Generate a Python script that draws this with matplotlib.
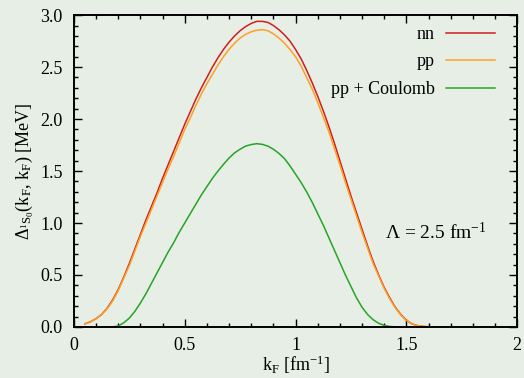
import numpy as np
import matplotlib
matplotlib.use('Agg')
import matplotlib.pyplot as plt
from matplotlib.ticker import MultipleLocator

plt.rcParams['font.family'] = ['Liberation Serif', 'DejaVu Serif']
plt.rcParams['mathtext.fontset'] = 'custom'
plt.rcParams['mathtext.rm'] = 'Liberation Serif'
plt.rcParams['mathtext.it'] = 'Liberation Serif:italic'

# values, k_F step 0.025 fm^-1
kf_nn = [0.050, 0.075, 0.100, 0.125, 0.150, 0.175, 0.200, 0.225, 0.250, 0.275,
         0.300, 0.325, 0.350, 0.375, 0.400, 0.425, 0.450, 0.475, 0.500, 0.525,
         0.550, 0.575, 0.600, 0.625, 0.650, 0.675, 0.700, 0.725, 0.750, 0.775,
         0.800, 0.825, 0.850, 0.875, 0.900, 0.925, 0.950, 0.975, 1.000, 1.025,
         1.050, 1.075, 1.100, 1.125, 1.150, 1.175, 1.200, 1.225, 1.250, 1.275,
         1.300, 1.325, 1.350, 1.375, 1.400, 1.425, 1.450, 1.475, 1.500, 1.525,
         1.550, 1.575, 1.600]
gap_nn = [0.03, 0.05, 0.08, 0.12, 0.18, 0.26, 0.36, 0.48, 0.61, 0.75,
          0.89, 1.03, 1.16, 1.29, 1.43, 1.56, 1.69, 1.82, 1.95, 2.07,
          2.19, 2.30, 2.40, 2.50, 2.59, 2.67, 2.74, 2.80, 2.85, 2.89,
          2.92, 2.94, 2.94, 2.93, 2.90, 2.86, 2.81, 2.75, 2.67, 2.58,
          2.47, 2.35, 2.22, 2.08, 1.93, 1.77, 1.60, 1.43, 1.26, 1.10,
          0.94, 0.78, 0.63, 0.50, 0.38, 0.28, 0.19, 0.12, 0.065, 0.03,
          0.013, 0.005, 0.002]
gap_pp = [0.03, 0.05, 0.08, 0.12, 0.175, 0.25, 0.35, 0.47, 0.59, 0.73,
          0.87, 1.00, 1.13, 1.26, 1.39, 1.52, 1.64, 1.77, 1.90, 2.01,
          2.13, 2.24, 2.34, 2.43, 2.52, 2.60, 2.67, 2.73, 2.78, 2.815,
          2.84, 2.855, 2.86, 2.85, 2.82, 2.78, 2.73, 2.67, 2.60, 2.51,
          2.40, 2.29, 2.16, 2.02, 1.88, 1.72, 1.56, 1.39, 1.23, 1.07,
          0.91, 0.76, 0.61, 0.49, 0.37, 0.27, 0.185, 0.115, 0.063, 0.029,
          0.013, 0.005, 0.002]
kf_c = [0.175, 0.200, 0.225, 0.250, 0.275, 0.300, 0.325, 0.350, 0.375, 0.400,
        0.425, 0.450, 0.475, 0.500, 0.525, 0.550, 0.575, 0.600, 0.625, 0.650,
        0.675, 0.700, 0.725, 0.750, 0.775, 0.800, 0.825, 0.850, 0.875, 0.900,
        0.925, 0.950, 0.975, 1.000, 1.025, 1.050, 1.075, 1.100, 1.125, 1.150,
        1.175, 1.200, 1.225, 1.250, 1.275, 1.300, 1.325, 1.350, 1.375, 1.400,
        1.425, 1.450, 1.475]
gap_c = [0.0, 0.01, 0.04, 0.085, 0.15, 0.23, 0.32, 0.42, 0.52, 0.62,
         0.72, 0.81, 0.91, 1.00, 1.09, 1.18, 1.27, 1.35, 1.43, 1.50,
         1.565, 1.625, 1.675, 1.71, 1.74, 1.755, 1.763, 1.757, 1.74, 1.71,
         1.67, 1.62, 1.55, 1.47, 1.39, 1.30, 1.20, 1.09, 0.98, 0.86,
         0.74, 0.62, 0.50, 0.39, 0.28, 0.19, 0.12, 0.07, 0.035, 0.015,
         0.005, 0.001, 0.0]

xticks = [0, 0.5, 1, 1.5, 2]
xticklabels = ['0', '0.5', '1', '1.5', '2']
yticks = [0.0, 0.5, 1.0, 1.5, 2.0, 2.5, 3.0]
yticklabels = ['0.0', '0.5', '1.0', '1.5', '2.0', '2.5', '3.0']

bg = '#e6eee6'
fig = plt.figure(figsize=(5.24, 3.78), dpi=100, facecolor=bg)
ax = fig.add_axes([0.141, 0.135, 0.846, 0.825], facecolor=bg)

ax.plot(kf_nn, gap_nn, color='#d01e1e', lw=1.1, label='nn')
ax.plot(kf_nn, gap_pp, color='#ffa020', lw=1.1, label='pp')
ax.plot(kf_c, gap_c, color='#25a525', lw=1.1, label='pp + Coulomb')

ax.set_xlim(0, 2)
ax.set_ylim(0, 3)
ax.set_xticks(xticks)
ax.set_xticklabels(xticklabels)
ax.set_yticks(yticks)
ax.set_yticklabels(yticklabels)
ax.xaxis.set_minor_locator(MultipleLocator(0.1))
ax.yaxis.set_minor_locator(MultipleLocator(0.1))
ax.tick_params(which='both', direction='in', top=True, right=True,
               labelsize=13, width=1.0)
ax.tick_params(which='major', length=6)
ax.tick_params(which='minor', length=3)
ax.tick_params(axis='x', which='major', pad=7)
ax.tick_params(axis='y', which='major', pad=8)
for s in ax.spines.values():
    s.set_linewidth(1.4)

ax.set_xlabel(r'$\mathrm{k_F}$ [fm$^{-1}$]', fontsize=13, labelpad=0)
ax.set_ylabel(r'$\Delta_{^1\mathrm{S_0}}(\mathrm{k_F},\,\mathrm{k_F})$ [MeV]',
              fontsize=13, labelpad=3)

ax.text(1.405, 0.91, r'$\Lambda$ = 2.5 fm$^{-1}$', fontsize=14, va='center')

ax.legend(loc='upper right', bbox_to_anchor=(0.979, 1.006), frameon=False,
          markerfirst=False, fontsize=13, handlelength=2.7, labelspacing=0.58,
          borderaxespad=0.3, handletextpad=0.65)

fig.savefig('out.png', dpi=100, facecolor=bg)
